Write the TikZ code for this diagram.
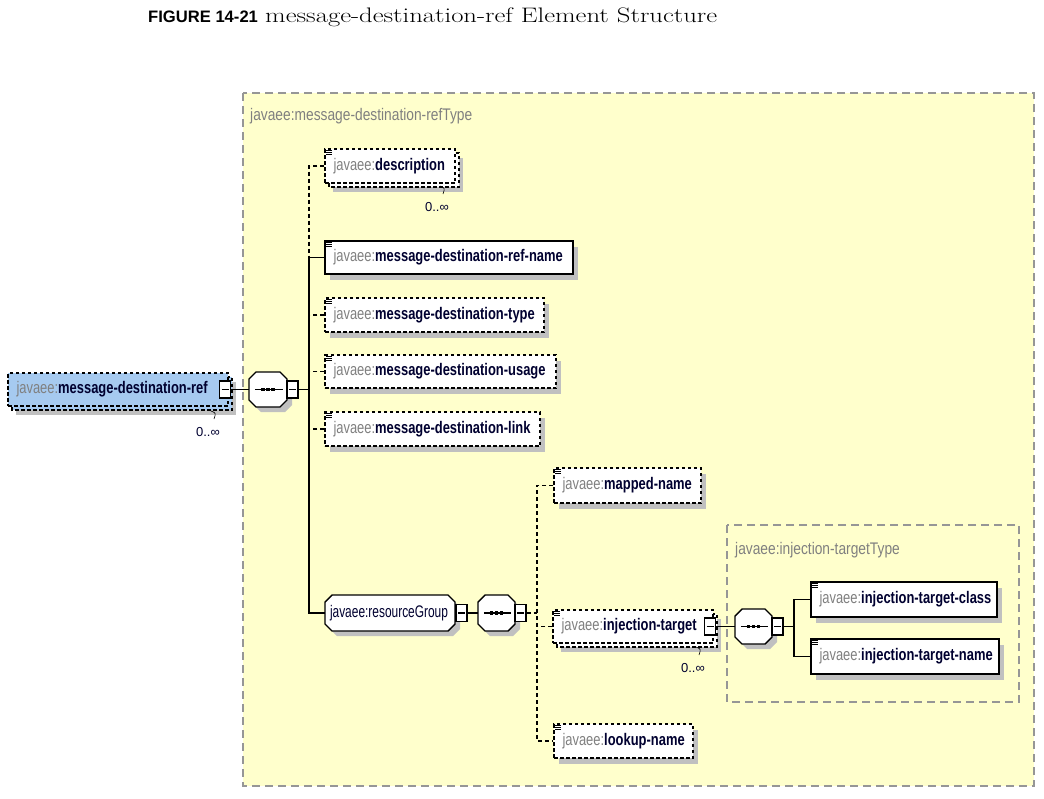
\documentclass[tikz,border=0pt]{standalone}
\usepackage{fontspec}
\usepackage{graphicx}
\usetikzlibrary{fit}
\newfontfamily\elemf[FakeStretch=0.77]{Liberation Sans}
\newfontfamily\grpf[FakeStretch=0.71]{Liberation Sans}
\newfontfamily\typef[FakeStretch=0.82]{Liberation Sans}
\newfontfamily\capsf{Liberation Sans}
\definecolor{yel}{RGB}{255,255,204}
\definecolor{framec}{RGB}{150,150,150}
\definecolor{shadowc}{RGB}{192,192,192}
\definecolor{rootblue}{RGB}{166,202,240}
\definecolor{pre}{RGB}{128,128,128}
\definecolor{txt}{RGB}{0,0,48}
\tikzset{
  frame/.style={draw=framec, line width=1.5pt, dash pattern=on 8pt off 5pt},
  solidbox/.style={draw=black, line width=1.4pt, fill=white},
  dashbox/.style={draw=black, line width=1.4pt, fill=white, dash pattern=on 3.5pt off 2.5pt},
  conn/.style={draw=black, line width=1.4pt},
  dconn/.style={conn, dash pattern=on 4pt off 3pt},
  elemtext/.style={anchor=west, inner sep=0pt, font=\elemf\fontsize{16.8}{19}\selectfont},
  grptext/.style={anchor=west, inner sep=0pt, text=txt, font=\grpf\fontsize{16.8}{19}\selectfont},
  typelbl/.style={anchor=west, inner sep=0pt, text=pre, font=\typef\fontsize{16.8}{19}\selectfont},
  mult/.style={inner sep=0pt, text=txt, font=\capsf\fontsize{13}{15}\selectfont},
  minusbox/.style={draw=black, line width=1.4pt, fill=white, minimum width=11pt, minimum height=17pt, inner sep=0pt},
  tickline/.style={draw=black, line width=0.6pt},
}
\newcommand\SingleBox[6]{%
  \fill[shadowc] ({#3+5},{#4+6}) rectangle ({#5+5},{#6+6});
  \node[#2, inner sep=0pt, fit={(#3,#4) (#5,#6)}] (#1) {};}
\newcommand\StackBox[6]{%
  \fill[shadowc] ({#3+8},{#4+9}) rectangle ({#5+8},{#6+9});
  \draw[#2] ({#3+4},{#4+4}) rectangle ({#5+4},{#6+4});
  \node[#2, inner sep=0pt, fit={(#3,#4) (#5,#6)}] (#1) {};}
\newcommand\Icon[1]{\foreach \d in {2.5,4.5,6.5}{\draw[line width=0.8pt] ([shift={(2,\d)}]#1.north west) -- ++(6,0);}}
\newcommand\Lbl[2]{\node[elemtext] (#1-t) at ([xshift=9pt]#1.west) {\textcolor{pre}{javaee:}\textcolor{txt}{\bfseries #2}};}
\newcommand\Minus[3]{\node[minusbox] (#1) at (#2,#3) {};
  \draw[line width=1.4pt] ([xshift=-3.5pt]#1.center) -- ([xshift=3.5pt]#1.center);}
\newcommand\Octa[6]{%
  \fill[shadowc, shift={(5,5)}] ({#2+#6},#3) -- ({#4-#6},#3) -- (#4,{#3+#6}) -- (#4,{#5-#6}) -- ({#4-#6},#5) -- ({#2+#6},#5) -- (#2,{#5-#6}) -- (#2,{#3+#6}) -- cycle;
  \draw[solidbox] ({#2+#6},#3) -- ({#4-#6},#3) -- (#4,{#3+#6}) -- (#4,{#5-#6}) -- ({#4-#6},#5) -- ({#2+#6},#5) -- (#2,{#5-#6}) -- (#2,{#3+#6}) -- cycle;
  \node[inner sep=0pt, fit={(#2,#3) (#4,#5)}] (#1) {};}
\newcommand\Seq[5]{%
  \Octa{#1}{#2}{#3}{#4}{#5}{7}
  \draw[line width=1.4pt] ([xshift=6pt]#1.west) -- ([xshift=-4pt]#1.east);
  \foreach \d in {-5,0,5}{\fill ([xshift=\d pt]#1.center) ++(-1.8,-1.8) rectangle ++(3.6,3.6);}}
\newcommand\Mult[3]{%
  \node[mult] (#1) at (#2,#3) {0..∞};
  \draw[tickline] ({#2+3},{#3-21}) .. controls ({#2+8},{#3-19}) .. ({#2+6},{#3-13});}
\begin{document}
\begin{tikzpicture}[x=1pt,y=-1pt]
\useasboundingbox (0,0) rectangle (1044,798);
\fill[white] (0,0) rectangle (1044,798);
% title
\node[anchor=base west, inner sep=0pt, font=\capsf\bfseries\fontsize{16.6}{18}\selectfont] (figno) at (148,22) {FIGURE 14-21};
\node[anchor=base west, inner sep=0pt, font=\fontsize{21}{23}\selectfont] (figtitle) at (265,22) {\scalebox{1.27}[1]{message-destination-ref Element Structure}};
% frames
\draw[frame, fill=yel] (243,93) rectangle (1034,786);
\draw[frame] (727,525) rectangle (1019,702);
\node[typelbl] (reftype) at (250,116) {javaee:message-destination-refType};
\node[typelbl] (injtype) at (735,550) {javaee:injection-targetType};
% root
\StackBox{root}{dashbox, fill=rootblue}{8}{373}{228}{406}
\Lbl{root}{message-destination-ref}
\Minus{rootm}{225}{389.5}
\Mult{rootmul}{208}{432}
% sequence 1
\Seq{seq1}{249}{372}{287}{407}
\Minus{seq1m}{292.5}{389.5}
\coordinate (tr1) at (309,389.5);
% children of sequence 1
\StackBox{desc}{dashbox}{325}{149}{455}{183}
\Icon{desc}\Lbl{desc}{description}
\Mult{descmul}{437}{207}
\SingleBox{refname}{solidbox}{325}{241}{573}{274}
\Icon{refname}\Lbl{refname}{message-destination-ref-name}
\SingleBox{dtype}{dashbox}{325}{298}{544}{332}
\Icon{dtype}\Lbl{dtype}{message-destination-type}
\SingleBox{usage}{dashbox}{325}{355}{556}{388}
\Icon{usage}\Lbl{usage}{message-destination-usage}
\SingleBox{link}{dashbox}{325}{412}{540}{446}
\Icon{link}\Lbl{link}{message-destination-link}
\Octa{rgrp}{325}{595}{455}{631}{7}
\node[grptext] (rgrp-t) at ([xshift=5pt]rgrp.west) {javaee:resourceGroup};
\Minus{rgrpm}{461.5}{613}
% sequence 2
\Seq{seq2}{478}{595}{515}{631}
\Minus{seq2m}{520.5}{613}
\coordinate (tr2) at (537,613);
\SingleBox{mapped}{dashbox}{554}{468}{701}{503}
\Icon{mapped}\Lbl{mapped}{mapped-name}
\StackBox{injt}{dashbox}{553}{610}{713}{643}
\Icon{injt}\Lbl{injt}{injection-target}
\Minus{injtm}{710}{626.5}
\Mult{injtmul}{693}{668}
\SingleBox{lookup}{dashbox}{554}{724}{693}{758}
\Icon{lookup}\Lbl{lookup}{lookup-name}
% sequence 3
\Seq{seq3}{735}{609}{772}{644}
\Minus{seq3m}{777.5}{626.5}
\coordinate (tr3) at (794,626.5);
\SingleBox{tclass}{solidbox}{811}{582}{997}{617}
\Icon{tclass}\Lbl{tclass}{injection-target-class}
\SingleBox{tname}{solidbox}{811}{639}{999}{674}
\Icon{tname}\Lbl{tname}{injection-target-name}
% connectors
\draw[conn] (rootm.east) -- (seq1.west);
\draw[conn] (seq1m.east) -- (tr1);
\draw[dconn] (desc.west) -- (desc.west -| tr1) -- (refname.west -| tr1);
\draw[conn] (refname.west) -- (refname.west -| tr1) -- (rgrp.west -| tr1) -- (rgrp.west);
\draw[dconn] (dtype.west) -- (dtype.west -| tr1);
\draw[dconn] (usage.west) -- (usage.west -| tr1);
\draw[dconn] (link.west) -- (link.west -| tr1);
\draw[conn] (rgrpm.east) -- (seq2.west);
\draw[dconn] (seq2m.east) -- (tr2);
\draw[dconn] (mapped.west) -- (mapped.west -| tr2) -- (lookup.west -| tr2) -- (lookup.west);
\draw[dconn] (injt.west) -- (injt.west -| tr2);
\draw[conn] (injtm.east) -- (seq3.west);
\draw[conn] (seq3m.east) -- (tr3);
\draw[conn] (tclass.west) -- (tclass.west -| tr3) -- (tname.west -| tr3) -- (tname.west);
\end{tikzpicture}
\end{document}
